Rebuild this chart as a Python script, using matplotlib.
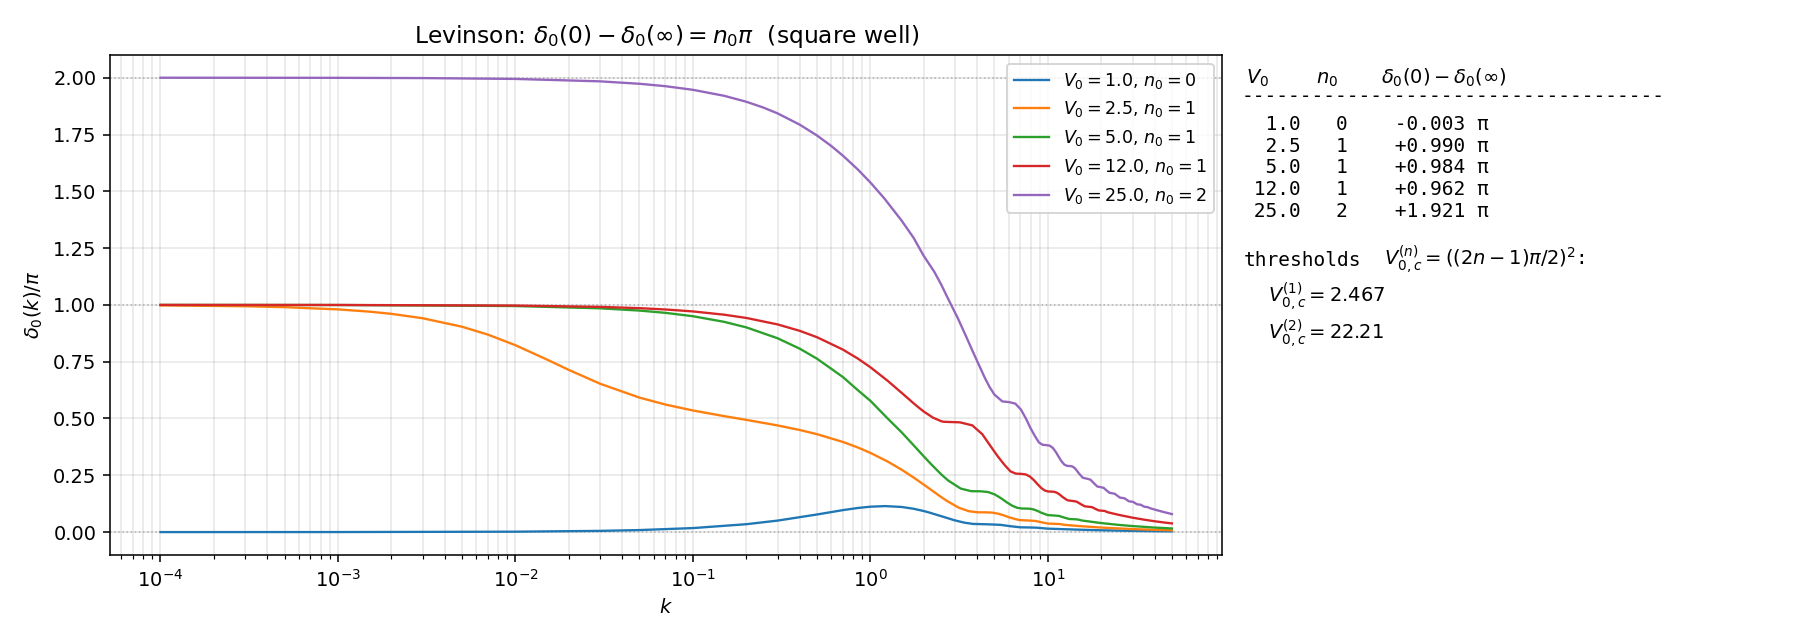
import matplotlib
matplotlib.use("Agg")
import matplotlib.pyplot as plt

# ---------------- data ----------------
V0_values = [1.0, 2.5, 5.0, 12.0, 25.0]
n0_values = [0, 1, 1, 1, 2]
line_colors = ["#1f77b4", "#ff7f0e", "#2ca02c", "#d62728", "#9467bd"]

# V0 = 1.0
k_v1 = [1e-4, 1e-3, 0.01, 0.03, 0.05, 0.1, 0.2, 0.3, 0.5, 0.7, 0.85, 1.0,
        1.2114, 1.5, 1.75, 2.0, 2.1335, 2.5, 2.9782, 3.3899, 3.7975, 4.6051,
        5.4061, 6.2031, 6.9975, 7.7901, 8.5813, 10.0, 15.0, 20.0, 30.0,
        40.0, 50.0]
d_v1 = [0.0000177, 0.000177, 0.00177, 0.00532, 0.00885, 0.01764, 0.03469,
        0.05058, 0.07747, 0.09669, 0.10612, 0.11177, 0.11441, 0.11060,
        0.10276, 0.09260, 0.08668, 0.07033, 0.05201, 0.04135, 0.03587,
        0.03416, 0.03187, 0.02549, 0.02102, 0.02035, 0.01955, 0.0151,
        0.0106, 0.00796, 0.00531, 0.00398, 0.00318]

# V0 = 2.5
k_v2 = [1e-4, 3e-4, 5e-4, 1e-3, 1.5e-3, 2e-3, 3e-3, 5e-3, 7e-3, 0.01, 0.015,
        0.02, 0.03, 0.05, 0.07, 0.1, 0.15, 0.2, 0.3, 0.4, 0.5, 0.7, 0.85,
        1.0, 1.25, 1.5, 1.75, 2.0, 2.5, 2.7147, 3.1609, 3.5946, 4.0199,
        4.4392, 4.8541, 5.2655, 5.6743, 6.0810, 6.8895, 7.6932, 8.4935,
        9.2912, 10.0870, 10.8813, 11.6744, 12.4665, 15.0, 20.0, 30.0, 40.0,
        50.0]
d_v2 = [0.99802, 0.99407, 0.99011, 0.98024, 0.97041, 0.96063, 0.94130,
        0.90396, 0.86921, 0.82255, 0.76005, 0.71372, 0.65300, 0.59188,
        0.56133, 0.53525, 0.51039, 0.49390, 0.46945, 0.44933, 0.43098,
        0.39679, 0.37238, 0.34869, 0.31069, 0.27452, 0.24046, 0.20884,
        0.15469, 0.13588, 0.10679, 0.09174, 0.08712, 0.08696, 0.08568,
        0.08080, 0.07296, 0.06435, 0.05293, 0.05118, 0.04916, 0.04252,
        0.03727, 0.03638, 0.03537, 0.03179, 0.02645, 0.01986, 0.01325,
        0.00994, 0.00796]

# V0 = 5.0
k_v3 = [1e-4, 1e-3, 0.01, 0.03, 0.05, 0.07, 0.1, 0.15, 0.2, 0.3, 0.4, 0.5,
        0.7, 0.85, 1.0, 1.25, 1.5, 1.75, 2.0, 2.2067, 2.5, 2.7370, 3.2282,
        3.6959, 4.1481, 4.5893, 5.0225, 5.4496, 5.8718, 6.2903, 6.7056,
        7.1183, 7.5289, 7.9377, 8.3450, 8.7509, 9.1557, 9.9623, 10.7658,
        11.5668, 12.3658, 13.1632, 13.9592, 14.7541, 15.5480, 20.0, 25.0,
        30.0, 40.0, 50.0]
d_v3 = [0.99995, 0.99950, 0.99500, 0.98501, 0.97501, 0.96502, 0.95015,
        0.92544, 0.90100, 0.85318, 0.80717, 0.76330, 0.68246, 0.62448,
        0.57783, 0.50029, 0.43906, 0.38255, 0.33322, 0.29758, 0.25498,
        0.22759, 0.19144, 0.18004, 0.17962, 0.17661, 0.16566, 0.14886,
        0.13094, 0.11619, 0.10716, 0.10378, 0.10346, 0.10270, 0.09922,
        0.09302, 0.08566, 0.07499, 0.07314, 0.07109, 0.06384, 0.05776,
        0.05665, 0.05544, 0.05092, 0.03967, 0.03177, 0.02649, 0.01988,
        0.01591]

# V0 = 12.0
k_v4 = [1e-4, 1e-3, 0.01, 0.03, 0.05, 0.07, 0.1, 0.15, 0.2, 0.3, 0.4, 0.5,
        0.7, 0.85, 1.0, 1.25, 1.5, 1.75, 1.8497, 2.0, 2.25, 2.5, 2.5806,
        3.1948, 3.7499, 4.2692, 4.7642, 5.2420, 5.7068, 6.1616, 6.6084,
        7.0488, 7.4838, 7.9145, 8.3414, 8.7651, 9.1860, 9.6046, 10.0210,
        10.4356, 10.8486, 11.2602, 11.6704, 12.0795, 12.8946, 13.7062,
        14.5149, 15.3212, 16.1255, 16.9280, 17.7289, 18.5285, 19.3270,
        20.1246, 20.9209, 21.7166, 25.0, 30.0, 35.0, 40.0, 45.0, 50.0]
d_v4 = [0.99997, 0.99971, 0.99712, 0.99137, 0.98562, 0.97987, 0.97125,
        0.95691, 0.94259, 0.91408, 0.88581, 0.85786, 0.80323, 0.76366,
        0.72559, 0.66617, 0.61289, 0.56716, 0.55135, 0.53042, 0.50399,
        0.48843, 0.48558, 0.48307, 0.46980, 0.43092, 0.37729, 0.33142,
        0.29509, 0.26693, 0.25724, 0.25631, 0.25412, 0.24468, 0.22856,
        0.20999, 0.19369, 0.18305, 0.17873, 0.17823, 0.17733, 0.17297,
        0.16488, 0.15498, 0.13999, 0.13719, 0.13417, 0.12310, 0.11351,
        0.11167, 0.10970, 0.10219, 0.09552, 0.09413, 0.09283, 0.08739,
        0.07603, 0.06345, 0.05443, 0.04766, 0.04238, 0.03815]

# V0 = 25.0
k_v5 = [1e-4, 1e-3, 3e-3, 0.01, 0.03, 0.05, 0.07, 0.1, 0.15, 0.2, 0.25, 0.3,
        0.4, 0.5, 0.6, 0.7, 0.85, 1.0, 1.2, 1.5, 1.75, 2.0, 2.2860, 2.5,
        2.75, 3.1141, 3.45, 3.8051, 4.4235, 4.7, 4.9965, 5.5381, 6.0568,
        6.5580, 7.0455, 7.5219, 7.9891, 8.4488, 8.9021, 9.3499, 9.7930,
        10.2319, 10.6673, 11.0995, 11.5288, 11.9556, 12.3802, 12.8028,
        13.2234, 13.6425, 14.0600, 14.4761, 14.8909, 15.7172, 16.5395,
        17.3584, 18.1743, 18.9877, 19.7988, 20.6079, 21.4152, 22.2210,
        23.0253, 23.8284, 24.6304, 25.4313, 26.2313, 27.0304, 27.8287,
        28.6264, 29.4233, 30.2197, 31.0155, 31.8108, 32.6056, 33.3999,
        34.1942, 34.9875, 35.7807, 36.5735, 37.3663, 40.0, 45.0, 50.0]
d_v5 = [1.99995, 1.99947, 1.99840, 1.99466, 1.98400, 1.97332, 1.96269,
        1.94676, 1.92036, 1.89420, 1.86836, 1.84291, 1.79333, 1.74576,
        1.70032, 1.65702, 1.59586, 1.53880, 1.46806, 1.37080, 1.29569,
        1.21516, 1.14693, 1.09113, 1.02459, 0.94012, 0.86378, 0.78881,
        0.67722, 0.63796, 0.60543, 0.57514, 0.57205, 0.56537, 0.53958,
        0.49998, 0.45697, 0.42294, 0.39461, 0.38405, 0.38279, 0.38058,
        0.37027, 0.35198, 0.33026, 0.31059, 0.29724, 0.29157, 0.29085,
        0.28972, 0.28403, 0.27333, 0.26007, 0.23938, 0.23531, 0.23100,
        0.21494, 0.20070, 0.19786, 0.19486, 0.18333, 0.17292, 0.17082,
        0.16862, 0.15991, 0.15195, 0.15033, 0.14864, 0.14184, 0.13556,
        0.13427, 0.13293, 0.12746, 0.12237, 0.12132, 0.12023, 0.11565,
        0.11154, 0.11066, 0.10976, 0.10593, 0.09909, 0.08815, 0.07938]

k_series = [k_v1, k_v2, k_v3, k_v4, k_v5]
d_series = [d_v1, d_v2, d_v3, d_v4, d_v5]

# table on the right
total_shift = [-0.003, 0.990, 0.984, 0.962, 1.921]
threshold_labels = ["2.467", "22.21"]

# ---------------- figure ----------------
W, H = 1820, 644
DPI = 140
fig = plt.figure(figsize=(W / DPI, H / DPI), dpi=DPI)
ax = fig.add_axes([0.0604, 0.1385, 0.6113, 0.7761])

for V0, n0, ks, ds, c in zip(V0_values, n0_values, k_series, d_series, line_colors):
    ax.plot(ks, ds, color=c, lw=1.2,
            label=rf"$V_0 = {V0:.1f}$, $n_0 = {n0}$")

for n in sorted(set(n0_values)):
    ax.axhline(n, color="gray", ls=":", lw=0.8, alpha=0.6, zorder=0)

ax.set_xscale("log")
ax.set_ylim(-0.1, 2.1)
ax.set_xlabel(r"$k$")
ax.set_ylabel(r"$\delta_0(k)/\pi$")
ax.set_title(r"Levinson: $\delta_0(0) - \delta_0(\infty) = n_0\pi$  (square well)")
ax.grid(True, which="both", alpha=0.3)
ax.legend(loc="upper right", fontsize=9)


def fx(px):
    return px / W


def fy(py):
    return 1 - py / H


mono = dict(family="DejaVu Sans Mono", fontsize=10, va="baseline", ha="left")
x0 = 1241.5

# header
fig.text(fx(1246.0), fy(83.3), r"$V_0$", **mono)
fig.text(fx(1315.7), fy(83.3), r"$n_0$", **mono)
fig.text(fx(1380.7), fy(83.3), r"$\delta_0(0) - \delta_0(\infty)$", **mono)
fig.text(fx(x0), fy(102.0), "-" * 36, **mono)

row_y = [130.0, 151.7, 173.3, 195.0, 216.7]
for V0, n0, s, yy in zip(V0_values, n0_values, total_shift, row_y):
    fig.text(fx(x0), fy(yy), f"{V0:5.1f}   {n0}    {s:+.3f} π", **mono)

fig.text(fx(1243.5), fy(265.7), "thresholds", **mono)
fig.text(fx(1384.5), fy(265.7), r"$V_{0,c}^{(n)} = ((2n-1)\pi/2)^2$:", **mono)
for i, (t, yy) in enumerate(zip(threshold_labels, [303.3, 340.0]), start=1):
    fig.text(fx(1267.8), fy(yy), rf"$V_{{0,c}}^{{({i})}} = {t}$", **mono)

fig.savefig("out.png", dpi=DPI)
